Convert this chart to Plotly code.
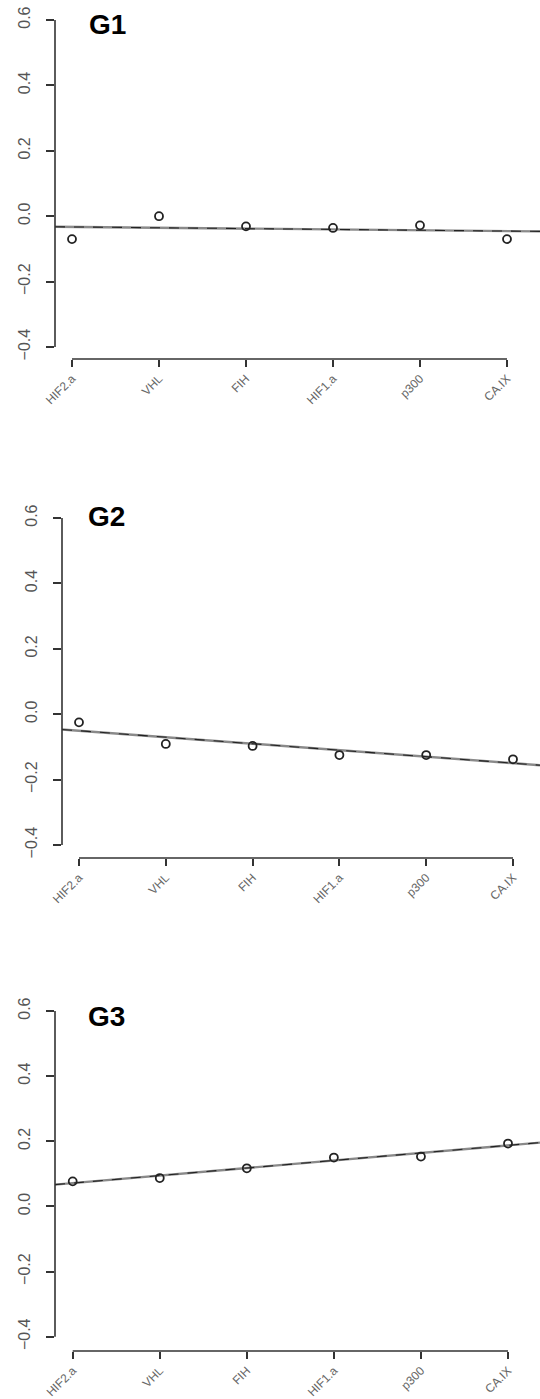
import numpy as np
import plotly.graph_objects as go

W, H = 540, 1399

# ---------------- data ----------------
genes = ["HIF2.a", "VHL", "FIH", "HIF1.a", "p300", "CA.IX"]
panel_names = ["G1", "G2", "G3"]
g1_values = [-0.070, 0.000, -0.031, -0.036, -0.028, -0.070]
g2_values = [-0.025, -0.091, -0.097, -0.125, -0.125, -0.138]
g3_values = [0.077, 0.087, 0.117, 0.150, 0.153, 0.193]
y_ticks = [-0.4, -0.2, 0.0, 0.2, 0.4, 0.6]
y_tick_labels = ["\u22120.4", "\u22120.2", "0.0", "0.2", "0.4", "0.6"]

series = [g1_values, g2_values, g3_values]

# ---------------- layout geometry (pixels) ----------------
geom = [
    dict(left=55, t1=72, t6=507, xline=359, ytop=20, ybot=347, title=(107, 25)),
    dict(left=62, t1=79, t6=513, xline=858, ytop=518, ybot=845, title=(106, 516)),
    dict(left=55, t1=72.7, t6=508, xline=1351, ytop=1011, ybot=1336.7, title=(106, 1016)),
]

fig = go.Figure()
layout = dict(
    width=W, height=H,
    margin=dict(l=0, r=0, t=0, b=0, autoexpand=False),
    paper_bgcolor="white", plot_bgcolor="white",
    showlegend=False,
    font=dict(family="Liberation Sans, Arial, sans-serif"),
)
shapes = []
annotations = []
xpos = np.arange(1, len(genes) + 1)

for i, (vals, g) in enumerate(zip(series, geom)):
    n = i + 1
    xa = "x" if n == 1 else f"x{n}"
    ya = "y" if n == 1 else f"y{n}"
    xkey = "xaxis" if n == 1 else f"xaxis{n}"
    ykey = "yaxis" if n == 1 else f"yaxis{n}"

    pux = (g["t6"] - g["t1"]) / (len(genes) - 1)
    xr0 = 1 - (g["t1"] - g["left"]) / pux
    xr1 = len(genes) + (W - g["t6"]) / pux
    puy = (g["ybot"] - g["ytop"]) / (y_ticks[-1] - y_ticks[0])
    top_px = g["ytop"] - 13
    yr0 = y_ticks[0] - (g["xline"] - g["ybot"]) / puy
    yr1 = y_ticks[-1] + (g["ytop"] - top_px) / puy

    layout[xkey] = dict(
        domain=[g["left"] / W, 1.0], range=[xr0, xr1], anchor=ya,
        tickvals=list(xpos), ticktext=genes, tickangle=-45,
        ticks="outside", ticklen=7, tickwidth=1.5, tickcolor="#333",
        showgrid=False, zeroline=False, showline=False, automargin=False,
        tickfont=dict(size=12, color="#666"),
    )
    layout[ykey] = dict(
        domain=[1 - g["xline"] / H, 1 - top_px / H], range=[yr0, yr1], anchor=xa,
        tickvals=y_ticks, ticktext=y_tick_labels, tickangle=-90,
        ticks="outside", ticklen=8, tickwidth=1.5, tickcolor="#333",
        showgrid=False, zeroline=False, showline=False, automargin=False,
        tickfont=dict(size=16, color="#555"), ticklabelstandoff=10,
    )

    fx0 = (1 - xr0) / (xr1 - xr0)
    fx1 = (len(genes) - xr0) / (xr1 - xr0)
    fy0 = (y_ticks[0] - yr0) / (yr1 - yr0)
    fy1 = (y_ticks[-1] - yr0) / (yr1 - yr0)
    shapes.append(dict(type="line", xref=f"{xa} domain", yref=f"{ya} domain",
                       x0=fx0, x1=fx1, y0=0, y1=0, line=dict(color="#333", width=1.6)))
    shapes.append(dict(type="line", xref=f"{xa} domain", yref=f"{ya} domain",
                       x0=0, x1=0, y0=fy0, y1=fy1, line=dict(color="#333", width=1.6)))

    coef = np.polyfit(xpos, np.array(vals), 1)
    lx = np.array([xr0, xr1])
    ly = np.polyval(coef, lx)
    fig.add_trace(go.Scatter(x=lx, y=ly, mode="lines", xaxis=xa, yaxis=ya,
                             line=dict(color="#8a8a8a", width=2.4), hoverinfo="skip"))
    fig.add_trace(go.Scatter(x=lx, y=ly, mode="lines", xaxis=xa, yaxis=ya,
                             line=dict(color="#222", width=1.1, dash="10px,9px"),
                             hoverinfo="skip"))
    fig.add_trace(go.Scatter(x=xpos, y=vals, mode="markers", xaxis=xa, yaxis=ya,
                             marker=dict(symbol="circle-open", size=8, color="#222",
                                         line=dict(width=1.8, color="#222"))))

    tx, ty = g["title"]
    annotations.append(dict(text=f"<b>{panel_names[i]}</b>", xref="paper", yref="paper",
                            x=tx / W, y=1 - ty / H, xanchor="center", yanchor="middle",
                            showarrow=False, font=dict(size=28, color="black",
                                                       family="Liberation Sans, Arial, sans-serif")))

layout["shapes"] = shapes
layout["annotations"] = annotations
fig.update_layout(**layout)
fig.write_html("out.html")
